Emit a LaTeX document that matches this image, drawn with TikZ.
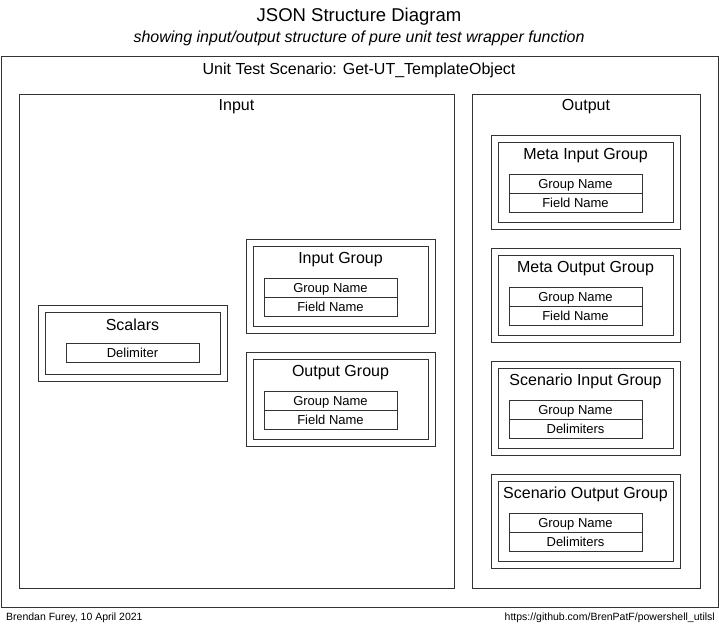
\documentclass[tikz,border=0pt]{standalone}
\usepackage{fontspec}
\setmainfont{Liberation Sans}
\tikzset{
  frame/.style={draw=black!80, line width=1pt, inner sep=0pt, outer sep=0pt, anchor=north west},
  fieldbox/.style={frame, minimum width=133pt, minimum height=19pt, text height=9.4pt, text depth=0pt, font=\fontsize{13}{15}\selectfont},
  ttl/.style={inner sep=0pt, text height=11.5pt, text depth=0pt, font=\fontsize{16}{19}\selectfont},
}
\newcommand\grpbox[6]{%
  \begin{scope}[shift={(#2,#3)}]
    \node[frame, minimum width=189pt, minimum height=94pt] (#1) at (0,0) {};
    \node[frame, minimum width=175pt, minimum height=80pt] (#1in) at (7,7) {};
    \node[ttl] (#1t) at (94.5,19) {#4};
    \node[fieldbox] (#1a) at (18,39) {#5};
    \node[fieldbox] (#1b) at (18,58) {#6};
  \end{scope}}
\begin{document}
\begin{tikzpicture}[x=1pt,y=-1pt]
\useasboundingbox (0,0) rectangle (719,624);
\node[inner sep=0pt, text height=13.3pt, text depth=0pt, font=\fontsize{18.5}{22}\selectfont] (title) at (359,15) {JSON Structure Diagram};
\node[inner sep=0pt, text height=11.5pt, text depth=0pt, font=\fontsize{16}{19}\selectfont\itshape] (sub) at (359,37) {showing input/output structure of pure unit test wrapper function};
\node[frame, minimum width=717pt, minimum height=551pt] (outer) at (1,56) {};
\node[ttl] (outert) at (359,69) {Unit Test Scenario: Get-UT\_TemplateObject};
\node[frame, minimum width=435pt, minimum height=494pt] (inp) at (19,94) {};
\node[ttl] (inpt) at (236.5,105) {Input};
\node[frame, minimum width=228pt, minimum height=494pt] (outp) at (472,94) {};
\node[ttl] (outpt) at (586,105) {Output};
% Scalars
\begin{scope}[shift={(38,305)}]
  \node[frame, minimum width=189pt, minimum height=76pt] (sc) at (0,0) {};
  \node[frame, minimum width=175pt, minimum height=62pt] (scin) at (7,7) {};
  \node[ttl] (sct) at (94.5,20) {Scalars};
  \node[fieldbox] (sca) at (28,38) {Delimiter};
\end{scope}
\grpbox{ig}{246}{239}{Input Group}{Group Name}{Field Name}
\grpbox{og}{246}{352}{Output Group}{Group Name}{Field Name}
\grpbox{mig}{491}{135}{Meta Input Group}{Group Name}{Field Name}
\grpbox{mog}{491}{248}{Meta Output Group}{Group Name}{Field Name}
\grpbox{sig}{491}{361}{Scenario Input Group}{Group Name}{Delimiters}
\grpbox{sog}{491}{474}{Scenario Output Group}{Group Name}{Delimiters}
\node[inner sep=0pt, anchor=west, text height=7.5pt, text depth=0pt, font=\fontsize{10.5}{12}\selectfont] (auth) at (6,617) {Brendan Furey, 10 April 2021};
\node[inner sep=0pt, anchor=east, text height=7.5pt, text depth=0pt, font=\fontsize{10.5}{12}\selectfont] (url) at (715,617) {https://github.com/BrenPatF/powershell\_utilsl};
\end{tikzpicture}
\end{document}
